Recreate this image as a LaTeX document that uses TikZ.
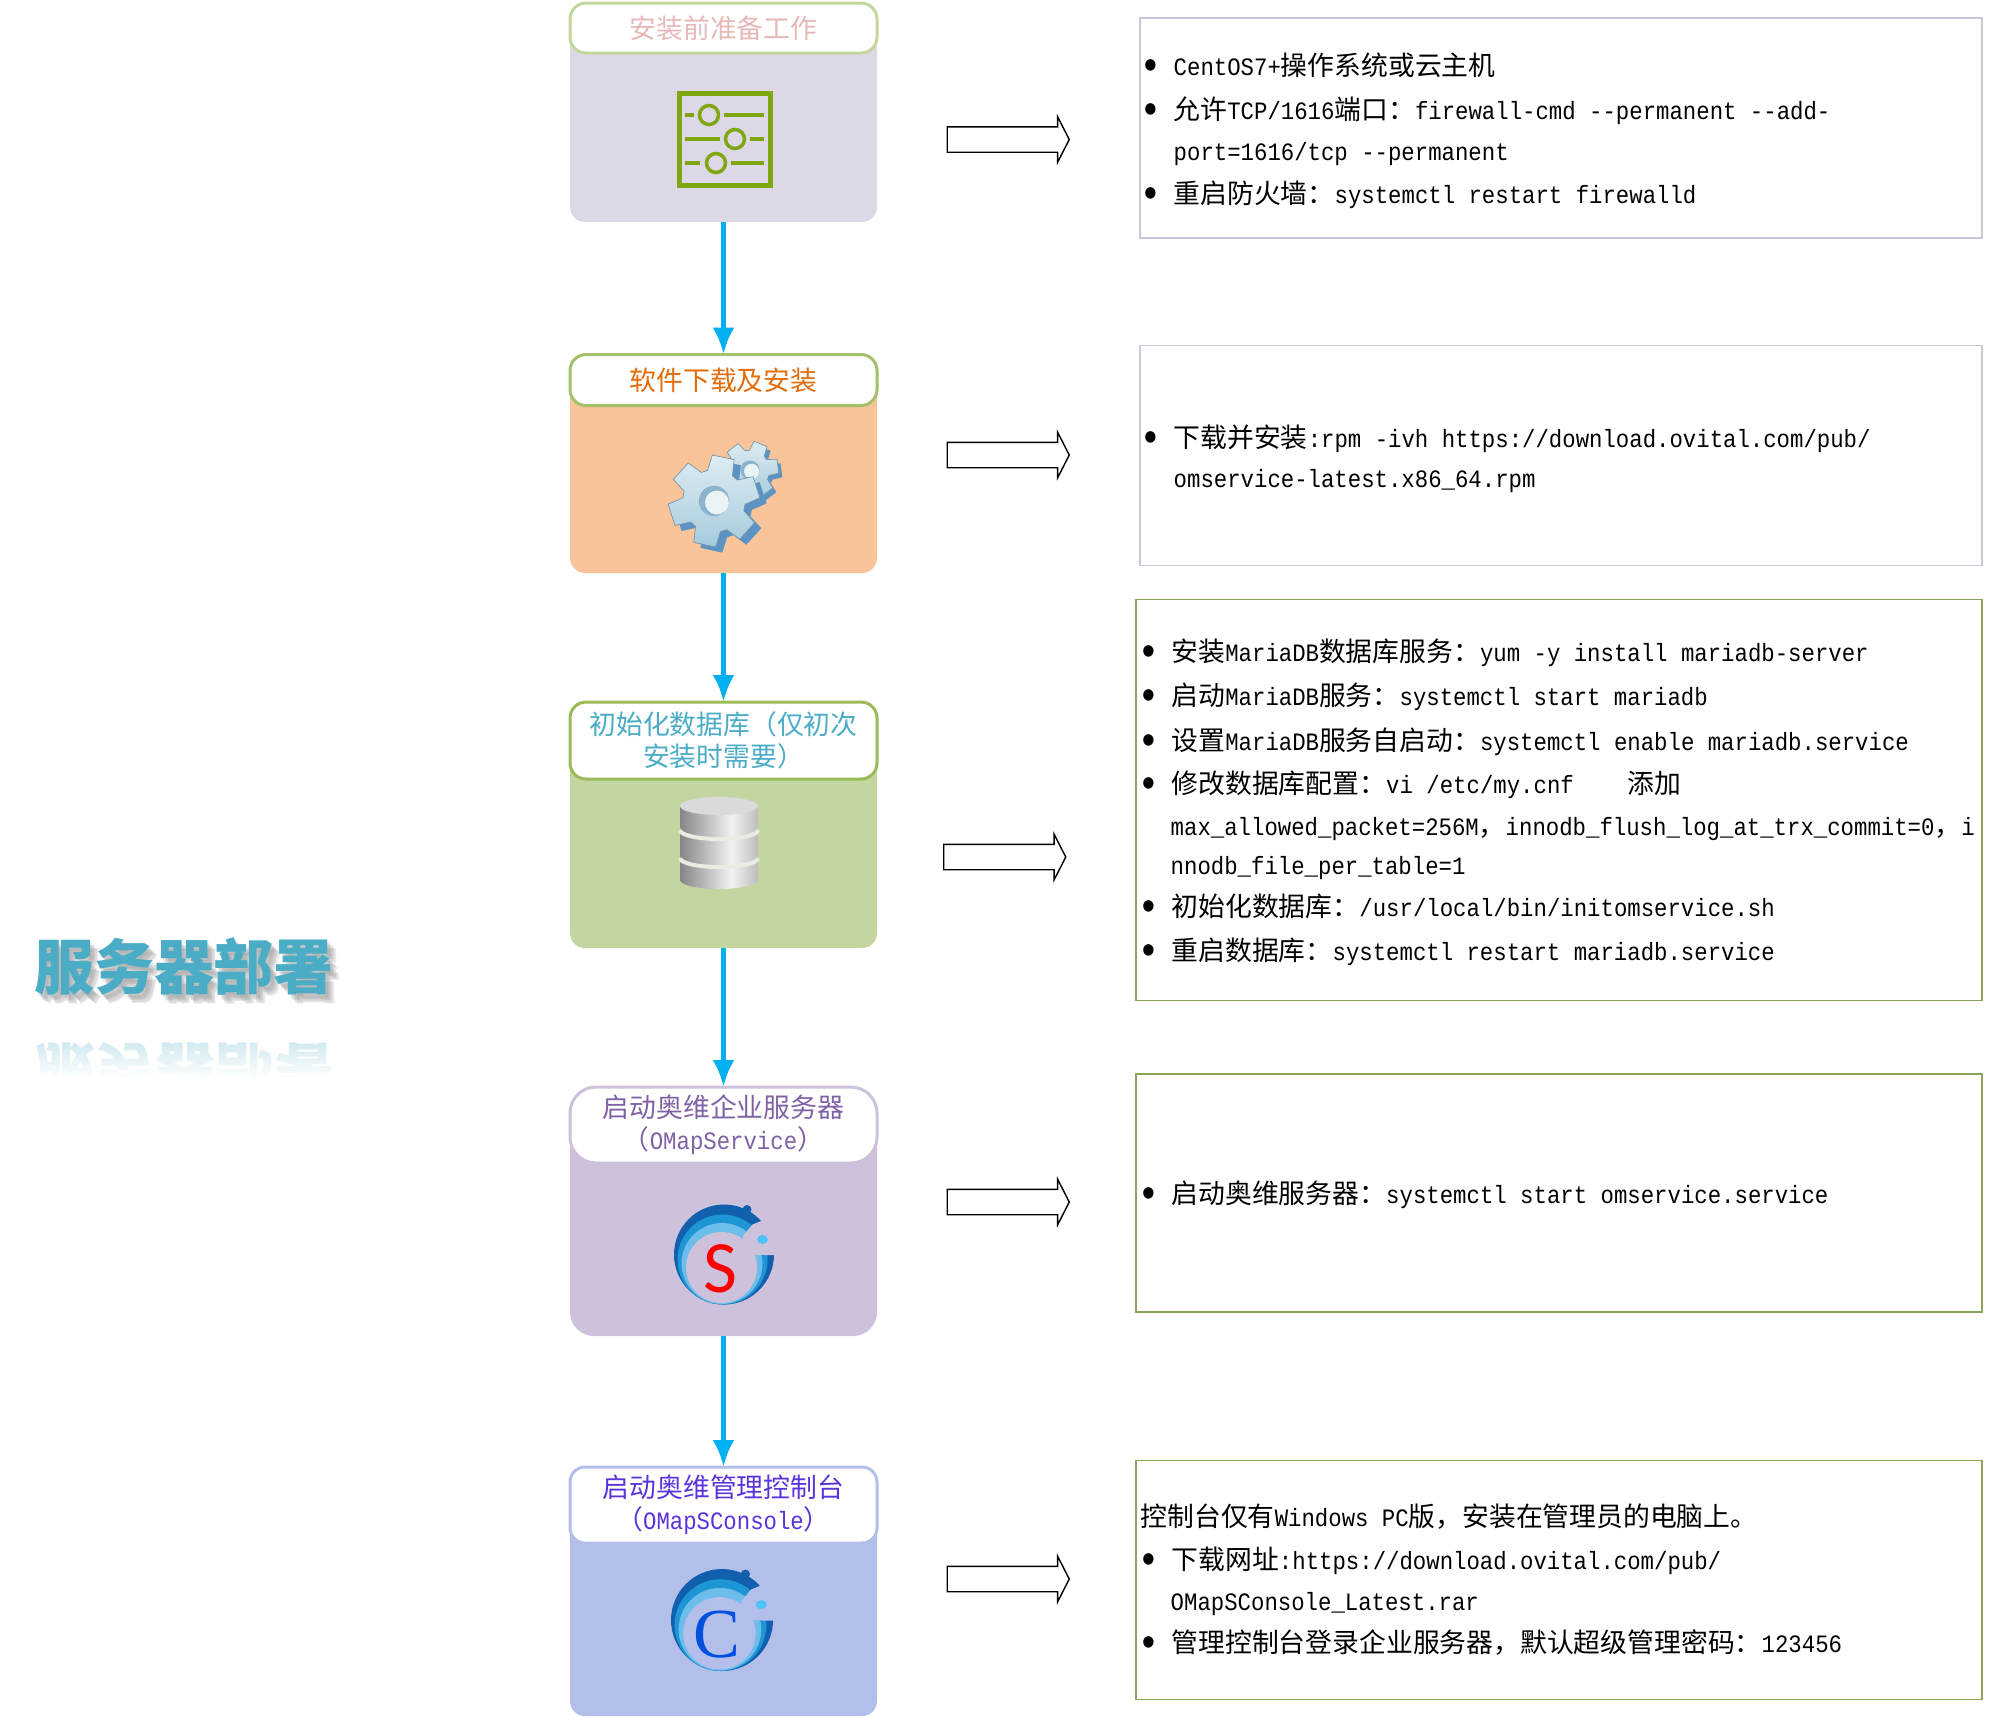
\documentclass[tikz,border=0pt]{standalone}
\usepackage{fontspec}
\usepackage{tikz}
\usetikzlibrary{arrows.meta,shapes.arrows,fadings}

\setmonofont[Scale=0.9325,FakeStretch=0.893]{Liberation Mono}
\newfontfamily\cjk{Noto Sans CJK SC}
\newfontfamily\logosans{Carlito}
\newfontfamily\logoserif{Liberation Serif}
\newcommand{\cn}[1]{{\cjk #1}}
\newcommand{\bul}{\makebox[0.31cm][l]{\kern-.03cm\raisebox{-.17em}{\scalebox{1.7}{\textbullet}}}}
\newcommand{\gearpath}{(-24:.68) \foreach \a in {0,60,...,300}{ -- (\a-24:.68) -- (\a-14:1) -- (\a+14:1) -- (\a+24:.68)} -- cycle}

\definecolor{flowblue}{HTML}{00B0F0}
\definecolor{lavline}{HTML}{CCC5DE}
\definecolor{greenline}{HTML}{8AA65C}
\definecolor{iconlime}{HTML}{7FA712}
\definecolor{titleblue}{HTML}{4BACC6}
\definecolor{mirrorblue}{HTML}{CFE9F0}
\definecolor{bodylav}{HTML}{DDD8E6}
\definecolor{bodypeach}{HTML}{F9C499}
\definecolor{bodygreen}{HTML}{C3D69F}
\definecolor{bodyplum}{HTML}{CDC1DB}
\definecolor{bodyperi}{HTML}{B3BFEA}
\definecolor{edgelight}{HTML}{C3D69B}
\definecolor{edgemid}{HTML}{A4C16A}
\definecolor{edgegreen}{HTML}{9BBB59}
\definecolor{textpink}{HTML}{E6B9B8}
\definecolor{textorange}{HTML}{E36C09}
\definecolor{textplum}{HTML}{7F62A6}
\definecolor{textviolet}{HTML}{5B33DD}
\definecolor{swirldark}{HTML}{1060AE}
\definecolor{swirlmid}{HTML}{1E96D6}
\definecolor{swirllight}{HTML}{6CBDEA}
\definecolor{swirldot}{HTML}{4FC3F7}
\definecolor{logoblue}{HTML}{0050E0}
\definecolor{gearside}{HTML}{5B93C4}
\definecolor{gearhigh}{HTML}{DEECF3}
\definecolor{gearlow}{HTML}{A6CBDC}
\definecolor{gearedge}{HTML}{7896AA}
\definecolor{gearhole}{HTML}{8CB2CC}
\definecolor{gearpale}{HTML}{EAF3F6}
\definecolor{dbdark}{HTML}{868686}
\definecolor{dblight}{HTML}{F2F2F2}
\definecolor{dbright}{HTML}{BDBDBD}
\definecolor{dbtop}{HTML}{DADADA}
\definecolor{dbgap}{HTML}{E8EDE0}
\pgfdeclarehorizontalshading{dbshade}{100bp}{color(0bp)=(dbdark);color(25bp)=(dbdark);color(58bp)=(dblight);color(75bp)=(dbright);color(100bp)=(dbright)}

\tikzset{
    plaintext/.style={inner sep=0, font=\fontsize{7.63}{9.1}\selectfont\ttfamily},
    linetext/.style={plaintext, anchor=base west},
    headbox/.style={plaintext, rectangle, draw, fill=white, line width=.03cm, align=center,
        outer sep=0, minimum width=3.07cm},
    bodybox/.style={rectangle, outer sep=0, minimum width=3.07cm},
    infobox/.style={rectangle, draw, line width=.5pt, inner sep=0, outer sep=0},
    hollowarrow/.style={single arrow, draw=black, fill=white, line width=.4pt, inner sep=.12cm,
        minimum height=1.22cm, single arrow head extend=.1cm, single arrow tip angle=126},
    flowarrow/.style={flowblue, line width=.055cm, -{Latex[length=.27cm,width=.22cm]}},
    titletext/.style={inner sep=0, font=\fontsize{17.07}{20}\selectfont\cjk\bfseries},
    swirl/.pic={
        \fill[swirldark] (0,0) circle (1) (.46,.9) circle (.09);
        \fill[swirlmid] (-.03,-.1) circle (.9);
        \fill[swirllight] (-.04,-.18) circle (.81);
        \fill[#1] (-.05,-.26) circle (.71);
        \fill[#1] (.38,0) -- (.38,.37) -- (.57,.6) -- (.82,.7) -- (1.3,.75) -- (1.3,-.02) -- cycle;
        \fill[swirldot] (.77,.3) ellipse (.11 and .09);
    },
    gearicon/.pic={
        \fill[gearside, shift={(.1,-.16)}] \gearpath;
        \fill[gearside] (0,0) circle (.68);
        \shade[top color=gearhigh, bottom color=gearlow, draw=gearedge, line width=.2pt] \gearpath;
        \fill[gearhole] (0,0) circle (.33);
        \fill[gearpale] (.05,-.05) circle (.26);
    }
}

\begin{document}
\begin{tikzpicture}
    \useasboundingbox (0,0) rectangle (19.89,-17.16);

    \node[bodybox, fill=bodylav, rounded corners=.15cm, minimum height=1.94cm] (body1) at (7.235,-1.25) {};
    \node[bodybox, fill=bodypeach, rounded corners=.15cm, minimum height=1.95cm] (body2) at (7.235,-4.755) {};
    \node[bodybox, fill=bodygreen, rounded corners=.15cm, minimum height=2.08cm] (body3) at (7.235,-8.44) {};
    \node[bodybox, fill=bodyplum, rounded corners=.24cm, minimum height=2.12cm] (body4) at (7.235,-12.30) {};
    \node[bodybox, fill=bodyperi, rounded corners=.15cm, minimum height=2.12cm] (body5) at (7.235,-16.10) {};

    \node[headbox, draw=edgelight, text=textpink, rounded corners=.16cm, minimum height=.50cm] (head1) at (7.235,-.28) {\cn{安装前准备工作}};
    \node[headbox, draw=edgemid, text=textorange, rounded corners=.16cm, minimum height=.51cm] (head2) at (7.235,-3.80) {\cn{软件下载及安装}};
    \node[headbox, draw=edgegreen, text=titleblue, rounded corners=.16cm, minimum height=.77cm] (head3) at (7.235,-7.405) {\cn{初始化数据库（仅初次}\\\cn{安装时需要）}};
    \node[headbox, draw=bodyplum, text=textplum, rounded corners=.26cm, minimum height=.76cm] (head4) at (7.235,-11.25) {\cn{启动奥维企业服务器}\\\cn{（}OMapService\cn{）}};
    \node[headbox, draw=bodyperi, text=textviolet, rounded corners=.15cm, minimum height=.76cm] (head5) at (7.235,-15.05) {\cn{启动奥维管理控制台}\\\cn{（}OMapSConsole\cn{）}};

    \draw[flowarrow] (body1.south) -- (head2.north);
    \draw[flowarrow] (body2.south) -- (head3.north);
    \draw[flowarrow] (body3.south) -- (head4.north);
    \draw[flowarrow] (body4.south) -- (head5.north);

    \draw[iconlime, line width=.05cm] (6.795,-.935) rectangle (7.705,-1.855);
    \draw[iconlime, line width=.04cm] (6.85,-1.15) -- (6.94,-1.15) (7.24,-1.15) -- (7.64,-1.15)
        (6.85,-1.39) -- (7.20,-1.39) (7.50,-1.39) -- (7.64,-1.39)
        (6.85,-1.63) -- (7.00,-1.63) (7.31,-1.63) -- (7.64,-1.63);
    \draw[iconlime, line width=.035cm] (7.09,-1.15) circle (.095) (7.35,-1.39) circle (.095) (7.16,-1.63) circle (.095);

    \pic[scale=.29, rotate=8] at (7.50,-4.70) {gearicon};
    \pic[scale=.46, rotate=18] at (7.14,-5.01) {gearicon};

    \foreach \t/\b/\g in {8.55/8.80/bodygreen, 8.30/8.55/dbgap, 8.06/8.27/dbgap}{
        \draw[\g, line width=.04cm] (6.80,-\b-.03) arc[start angle=180, end angle=360, x radius=.39, y radius=.09];
        \shade[shading=dbshade] (6.80,-\t) -- (6.80,-\b) arc[start angle=180, end angle=360, x radius=.39, y radius=.09] -- (7.58,-\t) -- cycle;
    }
    \fill[dbtop] (7.19,-8.06) ellipse (.39 and .09);

    \pic[scale=.5] at (7.24,-12.545) {swirl=bodyplum};
    \node[inner sep=0, text=red, font=\fontsize{21}{23}\selectfont\logosans] (logoS) at (7.205,-12.685) {S};
    \pic[scale=.51] at (7.22,-16.20) {swirl=bodyperi};
    \node[inner sep=0, text=logoblue, font=\fontsize{20}{22}\selectfont\logoserif] (logoC) at (7.17,-16.35) {C};

    \node[hollowarrow] (arrow1) at (10.05,-1.395) {};
    \node[hollowarrow] (arrow2) at (10.05,-4.55) {};
    \node[hollowarrow] (arrow3) at (10.015,-8.57) {};
    \node[hollowarrow] (arrow4) at (10.05,-12.02) {};
    \node[hollowarrow] (arrow5) at (10.05,-15.79) {};

    \node[infobox, draw=lavline, minimum width=8.42cm, minimum height=2.20cm] (info1) at (15.61,-1.28) {};
    \node[infobox, draw=lavline, minimum width=8.42cm, minimum height=2.20cm] (info2) at (15.61,-4.555) {};
    \node[infobox, draw=greenline, minimum width=8.46cm, minimum height=4.01cm] (info3) at (15.59,-8.0) {};
    \node[infobox, draw=greenline, minimum width=8.46cm, minimum height=2.38cm] (info4) at (15.59,-11.93) {};
    \node[infobox, draw=greenline, minimum width=8.46cm, minimum height=2.39cm] (info5) at (15.59,-15.80) {};

    \node[linetext] (line1a) at (11.42,-.75) {\bul CentOS7+\cn{操作系统或云主机}};
    \node[linetext] (line1b) at (11.42,-1.19) {\bul\cn{允许}TCP/1616\cn{端口：}firewall-cmd --permanent --add-};
    \node[linetext] (line1c) at (11.73,-1.60) {port=1616/tcp --permanent};
    \node[linetext] (line1d) at (11.42,-2.03) {\bul\cn{重启防火墙：}systemctl restart firewalld};

    \node[linetext] (line2a) at (11.42,-4.47) {\bul\cn{下载并安装}:rpm -ivh https://download.ovital.com/pub/};
    \node[linetext] (line2b) at (11.73,-4.87) {omservice-latest.x86\_64.rpm};

    \node[linetext] (line3a) at (11.40,-6.61) {\bul\cn{安装}MariaDB\cn{数据库服务：}yum -y install mariadb-server};
    \node[linetext] (line3b) at (11.40,-7.05) {\bul\cn{启动}MariaDB\cn{服务：}systemctl start mariadb};
    \node[linetext] (line3c) at (11.40,-7.50) {\bul\cn{设置}MariaDB\cn{服务自启动：}systemctl enable mariadb.service};
    \node[linetext] (line3d) at (11.40,-7.93) {\bul\cn{修改数据库配置：}vi /etc/my.cnf\ \ \ \ \cn{添加}};
    \node[linetext] (line3e) at (11.70,-8.35) {max\_allowed\_packet=256M\cn{，}innodb\_flush\_log\_at\_trx\_commit=0\cn{，}i};
    \node[linetext] (line3f) at (11.70,-8.74) {nnodb\_file\_per\_table=1};
    \node[linetext] (line3g) at (11.40,-9.16) {\bul\cn{初始化数据库：}/usr/local/bin/initomservice.sh};
    \node[linetext] (line3h) at (11.40,-9.60) {\bul\cn{重启数据库：}systemctl restart mariadb.service};

    \node[linetext] (line4a) at (11.40,-12.03) {\bul\cn{启动奥维服务器：}systemctl start omservice.service};

    \node[linetext] (line5a) at (11.40,-15.26) {\cn{控制台仅有}Windows PC\cn{版，安装在管理员的电脑上。}};
    \node[linetext] (line5b) at (11.40,-15.69) {\bul\cn{下载网址}:https://download.ovital.com/pub/};
    \node[linetext] (line5c) at (11.70,-16.10) {OMapSConsole\_Latest.rar};
    \node[linetext] (line5d) at (11.40,-16.52) {\bul\cn{管理控制台登录企业服务器，默认超级管理密码：}123456};

    \foreach \i/\d in {1/.015, 2/.03, 3/.045, 4/.06, 5/.075}{
        \node[titletext, text=gray, text opacity=.16] (shadow\i) at (1.85+\d,-9.68-\d) {服务器部署};
    }
    \node[titletext, text=titleblue] (title) at (1.84,-9.66) {服务器部署};
    \node[titletext, text=mirrorblue, yscale=-1, transform shape] (mirror) at (1.85,-10.72) {服务器部署};
    \fill[white, path fading=north] (.2,-10.40) rectangle (3.6,-10.78);
    \fill[white] (.2,-10.78) rectangle (3.6,-11.10);
\end{tikzpicture}
\end{document}
